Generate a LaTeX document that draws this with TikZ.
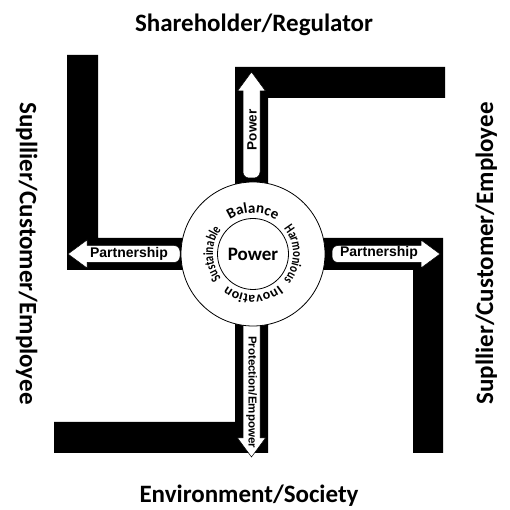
\documentclass[tikz,border=0pt]{standalone}
\usepackage{fontspec}
\newfontfamily\carl{Carlito}
\newfontfamily\carlnarrow[FakeStretch=0.78]{Carlito}
\newfontfamily\libsans{Liberation Sans}
\usetikzlibrary{decorations.text}

\tikzset{
  bar/.style={fill=black, draw=none},
  blockarrow/.style={fill=white, draw=black, line width=0.5pt, line join=miter},
  ring/.style={circle, draw=black, line width=0.8pt, fill=white, inner sep=0pt},
  sidelabel/.style={font=\carl\bfseries\fontsize{25}{25}\selectfont, inner sep=0pt, anchor=base},
  arrowlabel/.style={font=\libsans\bfseries\fontsize{14}{14}\selectfont, inner sep=0pt},
  ringtext/.style={decorate, decoration={text along path, text align=center, text={#1}}},
}

% block arrow: tail point, direction angle, total length
\newcommand\blockarrow[4]{%
  \begin{scope}[shift={(#1,#2)}, rotate=#3]
    \path[blockarrow] (#4-19,-8.5) -- (#4-19,-14) -- (#4,0) -- (#4-19,14) -- (#4-19,8.5)
      -- (6,8.5) arc[start angle=90, end angle=180, radius=6]
      -- (0,-2.5) arc[start angle=180, end angle=270, radius=6] -- cycle;
  \end{scope}}

\begin{document}
\begin{tikzpicture}[x=1pt,y=1pt]
\useasboundingbox (0,0) rectangle (509,510);

% the four bent arms
\fill[bar] (67,455) -- (98,455) -- (98,272) -- (253,272) -- (253,240) -- (67,240) -- cycle;
\fill[bar] (235,256) -- (235,443) -- (445,443) -- (445,412) -- (268,412) -- (268,256) -- cycle;
\fill[bar] (253,272) -- (443,272) -- (443,57) -- (413,57) -- (413,240) -- (253,240) -- cycle;
\fill[bar] (268,256) -- (268,57) -- (54,57) -- (54,88) -- (235,88) -- (235,256) -- cycle;

% white arrows along the arms
\blockarrow{251.5}{332}{90}{106}
\blockarrow{180}{256}{180}{112}
\blockarrow{332}{256}{0}{108}
\blockarrow{251.5}{220}{-90}{167}

% rings
\coordinate (c) at (253,256);
\node[ring, minimum size=144pt] (outer) at (c) {};
\node[ring, minimum size=71pt, font=\carl\bfseries\fontsize{19}{19}\selectfont] (core) at (c) {Power};

% words around the ring
\path[ringtext={|\carl\bfseries\fontsize{15}{15}\selectfont|Balance}]
  ([shift={(150:41)}]c) arc[start angle=150, end angle=30, radius=41];
\path[ringtext={|\carlnarrow\bfseries\fontsize{14}{14}\selectfont|Harmonious}]
  ([shift={(60:40)}]c) arc[start angle=60, end angle=-60, radius=40];
\path[ringtext={|\carl\bfseries\fontsize{14}{14}\selectfont|Inovation}]
  ([shift={(-30:41)}]c) arc[start angle=-30, end angle=-150, radius=41];
\path[ringtext={|\carlnarrow\bfseries\fontsize{14}{14}\selectfont|Sustainable}]
  ([shift={(240:40)}]c) arc[start angle=240, end angle=120, radius=40];

% arrow labels
\node[arrowlabel, rotate=90, font=\libsans\bfseries\fontsize{13.5}{13.5}\selectfont] (lpower) at (252,380) {Power};
\node[arrowlabel] (lpartl) at (129,256) {Partnership};
\node[arrowlabel] (lpartr) at (379,257) {Partnership};
\node[arrowlabel, rotate=-90, font=\libsans\bfseries\fontsize{11.5}{11.5}\selectfont] (lprot) at (251.5,118) {Protection/Empower};

% stakeholder labels
\node[sidelabel] (top) at (254,478.3) {Shareholder/Regulator};
\node[sidelabel] (bottom) at (249,8) {Environment/Society};
\node[sidelabel, rotate=-90] (left) at (20,256.5) {Supllier/Customer/Employee};
\node[sidelabel, rotate=90] (right) at (493,256.5) {Supllier/Customer/Employee};
\end{tikzpicture}
\end{document}
